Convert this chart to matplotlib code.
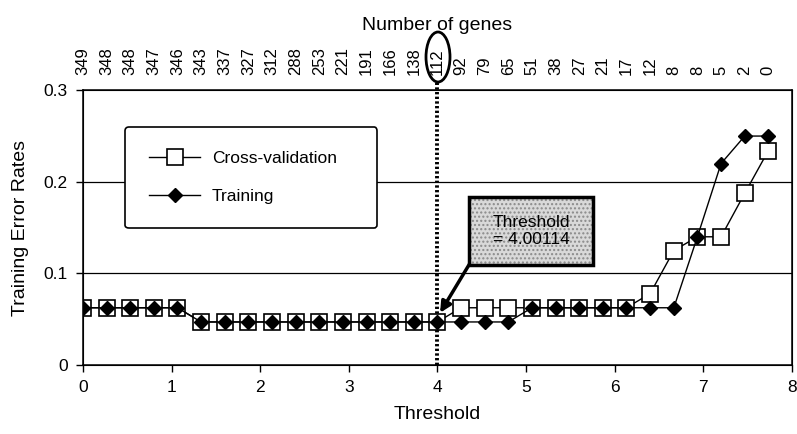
import matplotlib
matplotlib.use("Agg")
from matplotlib import pyplot as plt
from matplotlib.patches import Rectangle, Ellipse

plt.rcParams['font.family'] = ['Liberation Sans', 'DejaVu Sans']

thresholds = [0, 0.267, 0.533, 0.8, 1.067, 1.333, 1.6, 1.867, 2.133, 2.4,
              2.667, 2.933, 3.2, 3.467, 3.733, 4.0, 4.267, 4.533, 4.8, 5.067,
              5.333, 5.6, 5.867, 6.133, 6.4, 6.667, 6.933, 7.2, 7.467, 7.733]
genes = [349, 348, 348, 347, 346, 343, 337, 327, 312, 288, 253, 221, 191, 166, 138,
         112, 92, 79, 65, 51, 38, 27, 21, 17, 12, 8, 8, 5, 2, 0]
cross_validation = [0.0625, 0.0625, 0.0625, 0.0625, 0.0625, 0.047, 0.047, 0.047, 0.047, 0.047,
                    0.047, 0.047, 0.047, 0.047, 0.047, 0.047, 0.0625, 0.0625, 0.0625, 0.0625,
                    0.0625, 0.0625, 0.0625, 0.0625, 0.078, 0.125, 0.14, 0.14, 0.1875, 0.234]
training = [0.0625, 0.0625, 0.0625, 0.0625, 0.0625, 0.047, 0.047, 0.047, 0.047, 0.047,
            0.047, 0.047, 0.047, 0.047, 0.047, 0.047, 0.047, 0.047, 0.047, 0.0625,
            0.0625, 0.0625, 0.0625, 0.0625, 0.0625, 0.0625, 0.14, 0.22, 0.25, 0.25]
chosen_threshold = 4.0

fig = plt.figure(figsize=(7.97, 4.34), dpi=100)
ax = fig.add_axes([0.104, 0.159, 0.8897, 0.633])

ax.plot(thresholds, cross_validation, color="black", lw=1, marker="s", markersize=11,
        markerfacecolor="white", markeredgecolor="black", markeredgewidth=1.2,
        label="Cross-validation", zorder=3)
ax.plot(thresholds, training, color="black", lw=1, marker="D", markersize=7,
        markerfacecolor="black", markeredgecolor="black", label="Training", zorder=4)

ax.set_xlim(0, 8)
ax.set_ylim(0, 0.3)
ax.set_xticks(range(0, 9))
ax.set_yticks([0, 0.1, 0.2, 0.3])
ax.set_yticklabels(["0", "0.1", "0.2", "0.3"])
ax.tick_params(direction="out", length=5, width=1, labelsize=12.5, pad=6)
for y in [0.1, 0.2]:
    ax.axhline(y, color="black", lw=0.9, zorder=1)
for s in ax.spines.values():
    s.set_linewidth(1.1)
ax.set_xlabel("Threshold", fontsize=14, labelpad=8)
ax.set_ylabel("Training Error Rates", fontsize=14, labelpad=10)

# dotted marker for chosen threshold
ax.plot([chosen_threshold, chosen_threshold], [0, 0.31], color="black", lw=2.8,
        linestyle=(0, (0.6, 0.6)), clip_on=False, zorder=2)

leg = ax.legend(loc="upper left", bbox_to_anchor=(0.06, 0.50, 0.355, 0.365), mode="expand",
                fontsize=12.5, handlelength=2.9, labelspacing=1.3, borderpad=1.38,
                handletextpad=0.7, fancybox=True, framealpha=1, edgecolor="black",
                borderaxespad=0)
leg.get_frame().set_linewidth(1.2)

# threshold annotation box
ax.add_patch(Rectangle((4.357, 0.109), 1.4, 0.074, facecolor="#d9d9d9", edgecolor="#8a8a8a",
                       hatch="....", lw=0, zorder=5))
ax.add_patch(Rectangle((4.357, 0.109), 1.4, 0.074, facecolor="none", edgecolor="black",
                       lw=2.5, zorder=6))
ax.text(5.057, 0.146, "Threshold\n= 4.00114", ha="center", va="center", fontsize=12.5,
        linespacing=1.15, zorder=7)
ax.annotate("", xy=(4.03, 0.057), xytext=(4.36, 0.11),
            arrowprops=dict(arrowstyle="-|>", lw=2.5, color="black", mutation_scale=16,
                            shrinkA=0, shrinkB=0), zorder=7)

# top axis with number of genes
ax2 = ax.twiny()
ax2.set_xlim(ax.get_xlim())
ax2.set_xticks(thresholds)
ax2.set_xticklabels([str(g) for g in genes], rotation=90, fontsize=12)
ax2.tick_params(axis="x", length=0, pad=11)
ax2.set_xlabel("Number of genes", fontsize=14, labelpad=12)

fig.add_artist(Ellipse((438 / 797, 1 - 57 / 434), 24 / 797, 50 / 434,
                       transform=fig.transFigure, fill=False, edgecolor="black", lw=2))

fig.savefig("out.png", dpi=100)
